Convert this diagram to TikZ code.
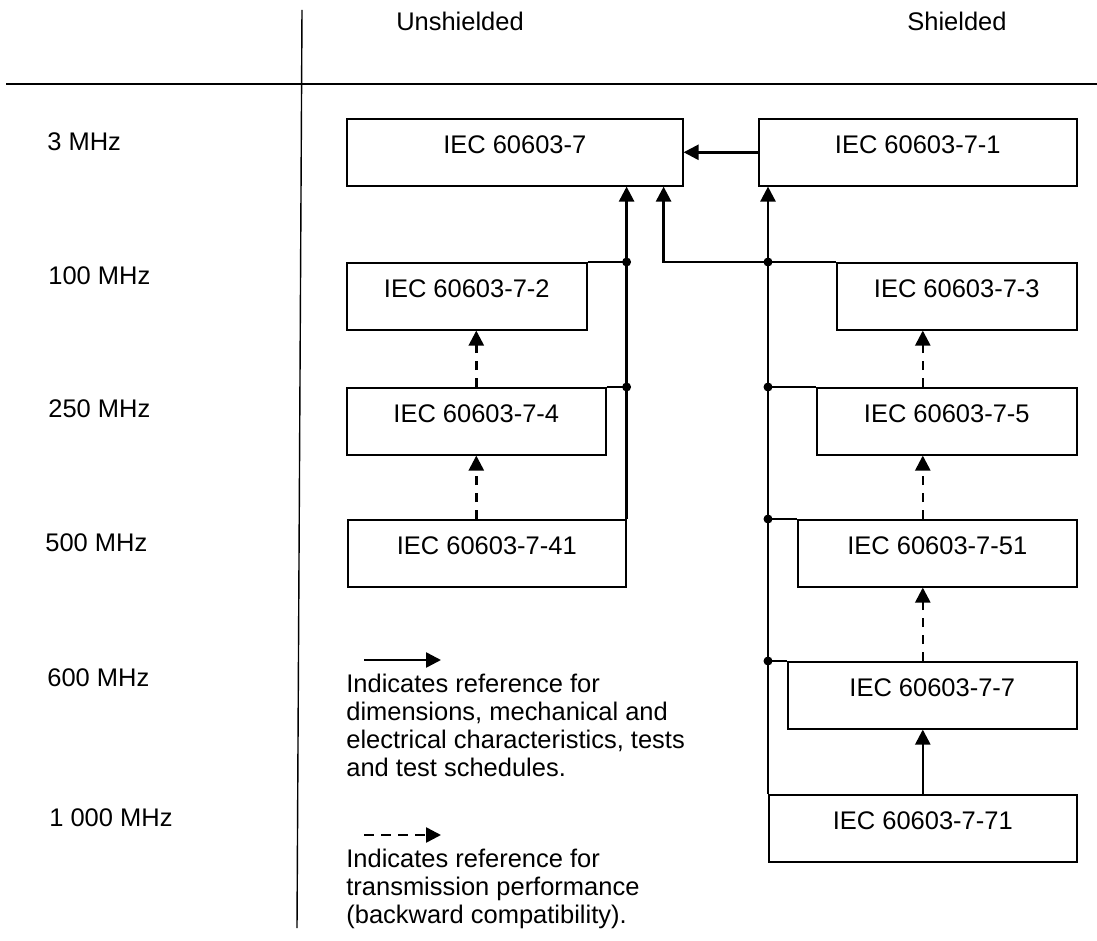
\documentclass[tikz,border=0pt]{standalone}
\usepackage{fontspec}
\setmainfont{Liberation Sans}
\usetikzlibrary{arrows.meta}
\tikzset{
  spec/.style={draw=black, line width=0.9pt, anchor=north west, inner sep=0pt,
               minimum height=13.4mm, text height=6.86mm, text depth=6.54mm},
  link/.style={line width=1.45pt, draw=black},
  linkarrow/.style={link, -{Triangle[length=3mm,width=3mm]}},
  compat/.style={linkarrow, dash pattern=on 1.9mm off 1.5mm},
  freq/.style={anchor=base west, inner sep=0pt},
  note/.style={anchor=north west, align=left, inner sep=0pt}
}

\begin{document}
\begin{tikzpicture}[x=0.2mm,y=-0.2mm,font=\fontsize{14.5pt}{15.8pt}\selectfont]
    \useasboundingbox (0,0) rectangle (1097,941);
    % ===== table frame =====
    \draw[line width=0.8pt] (6,84) -- (1097,84);
    \draw[line width=0.8pt] (302,10) -- (297,928);
    \node[anchor=base] (unsh) at (460,31) {Unshielded};
    \node[anchor=base] (sh) at (957,31) {Shielded};

    % ===== frequency rows =====
    \node[freq] (f3)    at (47,151)   {3 MHz};
    \node[freq] (f100)  at (48,284)   {100 MHz};
    \node[freq] (f250)  at (48,417)   {250 MHz};
    \node[freq] (f500)  at (45,551)   {500 MHz};
    \node[freq] (f600)  at (47,686)   {600 MHz};
    \node[freq] (f1000) at (49,826)   {1 000 MHz};

    % ===== unshielded family =====
    \node[spec, minimum width=67.2mm] (b7)   at (346,118) {IEC 60603-7};
    \node[spec, minimum width=48mm]   (b72)  at (346,262) {IEC 60603-7-2};
    \node[spec, minimum width=51.8mm] (b74)  at (346,387) {IEC 60603-7-4};
    \node[spec, minimum width=55.6mm] (b741) at (347,519) {IEC 60603-7-41};

    % ===== shielded family =====
    \node[spec, minimum width=63.6mm] (b71)  at (758,118) {IEC 60603-7-1};
    \node[spec, minimum width=48mm]   (b73)  at (836,262) {IEC 60603-7-3};
    \node[spec, minimum width=52mm]   (b75)  at (816,387) {IEC 60603-7-5};
    \node[spec, minimum width=55.8mm] (b751) at (797,519) {IEC 60603-7-51};
    \node[spec, minimum width=57.8mm] (b77)  at (787,661) {IEC 60603-7-7};
    \node[spec, minimum width=61.6mm] (b771) at (768,794) {IEC 60603-7-71};

    % ===== unshielded trunk =====
    \draw[linkarrow] (b741.north east) -- (b741.north east |- b7.south);
    \draw[link] (b72.north east) -- (b72.north east -| b741.north east);
    \draw[link] (b74.north east) -- (b74.north east -| b741.north east);
    \fill (b72.north east -| b741.north east) circle (0.9mm);
    \fill (b74.north east -| b741.north east) circle (0.9mm);
    \draw[compat] (b74.north) -- (b72.south -| b74.north);
    \draw[compat] (b741.north -| b74.north) -- (b74.south);

    % ===== shielded trunk =====
    \draw[linkarrow] (b771.north west) -- (b771.north west |- b71.south);
    \draw[linkarrow] (b71.west) -- (b7.east);
    \draw[linkarrow] (b73.north west) -| ([xshift=-4mm]b7.south east);
    \foreach \spc in {b75,b751,b77}
      \draw[link] (\spc.north west) -- (\spc.north west -| b771.north west);
    \foreach \spc in {b73,b75,b751,b77}
      \fill (\spc.north west -| b771.north west) circle (0.9mm);
    \draw[compat] (b75.north -| b771.north) -- (b73.south -| b771.north);
    \draw[compat] (b751.north -| b771.north) -- (b75.south -| b771.north);
    \draw[compat] (b77.north -| b771.north) -- (b751.south -| b771.north);
    \draw[linkarrow] (b771.north) -- (b77.south -| b771.north);

    % ===== legend =====
    \coordinate (solidA) at (364,660);
    \coordinate (solidB) at (441,660);
    \draw[linkarrow] (solidA) -- (solidB);
    \node[note] (legsolid) at (346,674)
      {Indicates reference for\\dimensions, mechanical and\\electrical characteristics, tests\\and test schedules.};
    \coordinate (dashA) at (364,835);
    \coordinate (dashB) at (441,835);
    \draw[compat] (dashA) -- (dashB);
    \node[note] (legdash) at (346,849)
      {Indicates reference for\\transmission performance\\(backward compatibility).};
\end{tikzpicture}
\end{document}
